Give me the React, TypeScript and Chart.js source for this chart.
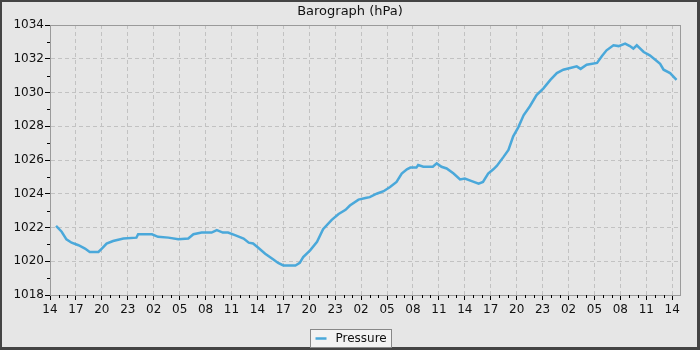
import React, { useEffect, useRef } from "react";
import { Chart, registerables } from "chart.js";

Chart.register(...registerables);

// Hours since the first tick (14:00), and pressure readings in hPa
const HOURS = [
  0.7, 1.35, 1.9, 2.5, 3.3, 4.05, 4.6, 5.6, 6.0, 6.55, 7.3, 8.5, 10.0, 10.2, 11.8, 12.5, 13.7, 14.85,
  16.0, 16.6, 17.55, 18.7, 19.3, 20.0, 20.6, 21.4, 22.4, 23.0, 23.5, 24.1, 24.9, 25.85, 26.4, 27.0,
  28.4, 28.9, 29.3, 30.1, 30.9, 31.6, 32.6, 33.4, 34.2, 34.7, 35.7, 36.5, 37.0, 37.8, 38.6, 39.35,
  40.1, 40.7, 41.3, 41.7, 42.4, 42.6, 43.2, 44.3, 44.75, 45.3, 45.9, 46.7, 47.45, 48.0, 48.8, 49.6,
  50.1, 50.7, 51.3, 51.7, 52.5, 53.05, 53.6, 54.2, 54.8, 55.55, 56.3, 57.1, 57.9, 58.65, 59.4, 60.2,
  60.95, 61.4, 62.1, 63.3, 63.85, 64.4, 65.2, 65.8, 66.55, 67.1, 67.5, 67.9, 68.7, 69.4, 70.0, 70.6,
  71.0, 71.75, 72.5,
];
const PRESSURE = [
  1022.1, 1021.75, 1021.3, 1021.1, 1020.95, 1020.75, 1020.55, 1020.55, 1020.75, 1021.05, 1021.2, 1021.35,
  1021.4, 1021.6, 1021.6, 1021.45, 1021.4, 1021.3, 1021.35, 1021.6, 1021.7, 1021.7, 1021.85, 1021.7,
  1021.7, 1021.55, 1021.35, 1021.1, 1021.05, 1020.8, 1020.45, 1020.1, 1019.9, 1019.75, 1019.75, 1019.9,
  1020.25, 1020.65, 1021.15, 1021.9, 1022.45, 1022.8, 1023.05, 1023.3, 1023.65, 1023.75, 1023.8, 1024.0,
  1024.15, 1024.4, 1024.7, 1025.2, 1025.45, 1025.55, 1025.55, 1025.7, 1025.6, 1025.6, 1025.8, 1025.6,
  1025.5, 1025.2, 1024.85, 1024.9, 1024.75, 1024.6, 1024.7, 1025.2, 1025.45, 1025.65, 1026.2, 1026.6,
  1027.4, 1027.95, 1028.65, 1029.2, 1029.85, 1030.25, 1030.75, 1031.15, 1031.35, 1031.45, 1031.55, 1031.4,
  1031.65, 1031.75, 1032.15, 1032.5, 1032.8, 1032.75, 1032.9, 1032.75, 1032.6, 1032.8, 1032.4, 1032.2,
  1031.95, 1031.7, 1031.35, 1031.15, 1030.75,
];
const START_HOUR = 14;
const X_MIN = 0;
const X_MAX = 72.9;
const Y_MIN = 1018;
const Y_MAX = 1034;
const TITLE = "Barograph (hPa)";
const SERIES_NAME = "Pressure";

const FONT_FAMILY = "'DejaVu Sans', sans-serif";
const LINE_COLOR = "#4aa8da";
const BG = "#e6e6e6";
const FRAME = "#444444";
const AXIS_COLOR = "#9a9a9a";
const GRID_COLOR = "#c2c2c2";

const hourLabel = (v: number) => String((START_HOUR + Math.round(v)) % 24).padStart(2, "0");

const decorPlugin = {
  id: "decor",
  beforeDraw(chart: any) {
    const { ctx, width, height } = chart;
    ctx.save();
    ctx.fillStyle = FRAME;
    ctx.fillRect(0, 0, width, height);
    ctx.fillStyle = BG;
    ctx.fillRect(2, 2, width - 5, height - 5);
    // title, centred on the whole image
    ctx.fillStyle = "#111";
    ctx.font = `13px ${FONT_FAMILY}`;
    ctx.textAlign = "center";
    ctx.textBaseline = "middle";
    ctx.fillText(TITLE, width / 2, 11.5);
    ctx.restore();
  },
  afterDraw(chart: any) {
    const { ctx, chartArea, width } = chart;
    const xs = chart.scales.x;
    const ys = chart.scales.y;
    ctx.save();
    // plot border
    ctx.strokeStyle = AXIS_COLOR;
    ctx.lineWidth = 1;
    ctx.strokeRect(
      Math.round(chartArea.left) + 0.5,
      Math.round(chartArea.top) + 0.5,
      Math.round(chartArea.right - chartArea.left),
      Math.round(chartArea.bottom - chartArea.top)
    );
    // minor ticks
    ctx.strokeStyle = "#000";
    ctx.beginPath();
    for (let h = Math.ceil(X_MIN); h <= X_MAX; h++) {
      if (h % 3 === 0) continue;
      const px = Math.round(xs.getPixelForValue(h)) + 0.5;
      ctx.moveTo(px, chartArea.bottom);
      ctx.lineTo(px, chartArea.bottom + 3);
    }
    for (let v = Y_MIN; v <= Y_MAX; v++) {
      if (v % 2 === 0) continue;
      const py = Math.round(ys.getPixelForValue(v)) + 0.5;
      ctx.moveTo(chartArea.left - 3, py);
      ctx.lineTo(chartArea.left, py);
    }
    ctx.stroke();

    // legend
    ctx.font = `12px ${FONT_FAMILY}`;
    const tw = ctx.measureText(SERIES_NAME).width;
    const boxW = Math.round(tw + 30);
    const boxH = 18;
    const bx = Math.round(width / 2 - boxW / 2) + 0.5;
    const by = 329.5;
    ctx.fillStyle = "#f2f2f2";
    ctx.fillRect(bx, by, boxW, boxH);
    ctx.strokeStyle = "#888";
    ctx.strokeRect(bx, by, boxW, boxH);
    ctx.strokeStyle = LINE_COLOR;
    ctx.lineWidth = 2.5;
    ctx.beginPath();
    ctx.moveTo(bx + 5, by + 9);
    ctx.lineTo(bx + 16, by + 9);
    ctx.stroke();
    ctx.fillStyle = "#111";
    ctx.textBaseline = "middle";
    ctx.fillText(SERIES_NAME, bx + 25, by + 9);
    ctx.restore();
  },
};

export default function App() {
  const canvasRef = useRef<HTMLCanvasElement | null>(null);

  useEffect(() => {
    document.body.style.margin = "0";
    const canvas = canvasRef.current;
    if (!canvas) return;
    const data = HOURS.map((h, i) => ({ x: h, y: PRESSURE[i] }));
    const chart = new Chart(canvas, {
      type: "line",
      data: {
        datasets: [
          {
            label: SERIES_NAME,
            data,
            borderColor: LINE_COLOR,
            backgroundColor: LINE_COLOR,
            borderWidth: 2.5,
            pointRadius: 0,
            tension: 0,
            fill: false,
          },
        ],
      },
      options: {
        animation: false,
        responsive: false,
        devicePixelRatio: 1,
        layout: { padding: { left: 0, right: 20, top: 25, bottom: 0 } },
        plugins: {
          legend: { display: false },
          tooltip: { enabled: false },
          title: { display: false },
        },
        scales: {
          x: {
            type: "linear",
            min: X_MIN,
            max: X_MAX,
            afterFit: (s: any) => {
              s.height = 55;
            },
            ticks: {
              stepSize: 3,
              includeBounds: false,
              autoSkip: false,
              maxRotation: 0,
              padding: 3,
              color: "#111",
              font: { family: FONT_FAMILY, size: 12 },
              callback: (v: any) => hourLabel(Number(v)),
            },
            grid: {
              color: GRID_COLOR,
              tickColor: "#000",
              tickLength: 5,
              drawTicks: true,
            },
            border: { display: true, color: AXIS_COLOR, dash: [4, 3] },
          },
          y: {
            type: "linear",
            min: Y_MIN,
            max: Y_MAX,
            afterFit: (s: any) => {
              s.width = 50;
            },
            ticks: {
              stepSize: 2,
              padding: 1,
              color: "#111",
              font: { family: FONT_FAMILY, size: 12 },
              callback: (v: any) => String(v),
            },
            grid: {
              color: GRID_COLOR,
              tickColor: "#000",
              tickLength: 5,
            },
            border: { display: true, color: AXIS_COLOR, dash: [4, 3] },
          },
        },
      },
      plugins: [decorPlugin],
    });
    return () => chart.destroy();
  }, []);

  return (
    <div style={{ position: "absolute", left: 0, top: 0, width: 700, height: 350 }}>
      <canvas ref={canvasRef} width={700} height={350} style={{ display: "block", width: 700, height: 350 }} />
    </div>
  );
}
